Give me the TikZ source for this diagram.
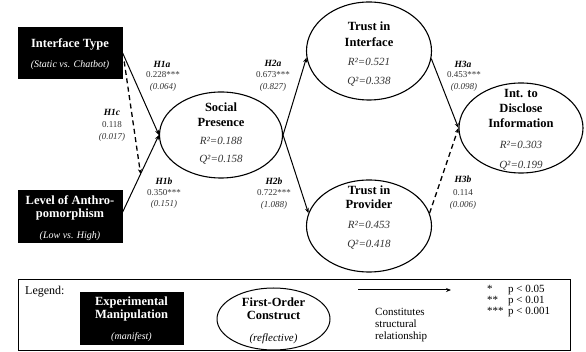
\documentclass[tikz,border=0pt]{standalone}
\usepackage{fontspec}
\setmainfont{Liberation Serif}
\usetikzlibrary{shapes.geometric,arrows.meta}
\begin{document}
\begin{tikzpicture}[x=1pt,y=-1pt,
  blackbox/.style={draw=black,fill=black,inner sep=0pt},
  construct/.style={draw=black,ellipse,line width=1.1pt,inner sep=0pt},
  ttl/.style={font=\fontsize{12.5}{14}\selectfont\bfseries,inner sep=0pt},
  wttl/.style={ttl,text=white},
  sub/.style={font=\fontsize{10}{12}\selectfont\itshape,inner sep=0pt},
  wsub/.style={sub,text=white},
  fit/.style={font=\fontsize{11}{13}\selectfont\itshape,text=black!80,inner sep=0pt},
  hyp/.style={font=\fontsize{9.5}{11}\selectfont\bfseries\itshape,inner sep=0pt},
  coef/.style={font=\fontsize{9}{11}\selectfont,text=black!80,inner sep=0pt},
  se/.style={font=\fontsize{9}{11}\selectfont\itshape,text=black!80,inner sep=0pt},
  leg/.style={font=\fontsize{11}{13}\selectfont,inner sep=0pt},
  bigleg/.style={font=\fontsize{12}{13}\selectfont,inner sep=0pt},
  sigleg/.style={font=\fontsize{11}{12}\selectfont,inner sep=0pt},
  path/.style={line width=1pt,-{Stealth[length=5pt,width=4pt]}},
  dpath/.style={path,line width=1.3pt,dash pattern=on 5pt off 3.5pt},
]
\useasboundingbox (0,0) rectangle (586,352);

% manipulations
\node[blackbox,minimum width=104,minimum height=51] (itype) at (70,52.5) {};
\node[wttl] (itypeA) at (70,44) {Interface Type};
\node[wsub] (itypeB) at (70,65) {(Static vs. Chatbot)};

\node[blackbox,minimum width=104,minimum height=52] (lvl) at (70,216) {};
\node[wttl] (lvlA) at (70,200) {Level of Anthro-};
\node[wttl] (lvlB) at (70,214) {pomorphism};
\node[wsub] (lvlC) at (70,236) {(Low vs. High)};

% constructs
\node[construct,minimum width=123,minimum height=86] (sp) at (221,135) {};
\node[ttl] (spA) at (221,107) {Social};
\node[ttl] (spB) at (221,122) {Presence};
\node[fit] (spC) at (221,141) {R²=0.188};
\node[fit] (spD) at (221,160) {Q²=0.158};

\node[construct,minimum width=125,minimum height=98] (ti) at (369,51) {};
\node[ttl] (tiA) at (369,26) {Trust in};
\node[ttl] (tiB) at (369,42) {Interface};
\node[fit] (tiC) at (369,62) {R²=0.521};
\node[fit] (tiD) at (369,82) {Q²=0.338};

\node[construct,minimum width=125,minimum height=92] (tp) at (369,226) {};
\node[ttl] (tpA) at (369,190) {Trust in};
\node[ttl] (tpB) at (369,204) {Provider};
\node[fit] (tpC) at (369,225) {R²=0.453};
\node[fit] (tpD) at (369,245) {Q²=0.418};

\node[construct,minimum width=124,minimum height=90] (idi) at (521,128) {};
\node[ttl] (idiA) at (521,93) {Int. to};
\node[ttl] (idiB) at (521,108) {Disclose};
\node[ttl] (idiC) at (521,123) {Information};
\node[fit] (idiD) at (521,145) {R²=0.303};
\node[fit] (idiE) at (521,166) {Q²=0.199};

% paths
\coordinate (h1aS) at ([yshift=0.5pt]itype.east);
\coordinate (h1bS) at ([yshift=3pt]lvl.east);
\draw[path] (h1aS) -- (sp.west);
\draw[path] (h1bS) -- (sp.west);
\path (h1bS) -- (sp.west) coordinate[pos=0.5] (h1bmid);
\draw[dpath] ([xshift=2pt,yshift=-9pt]itype.east) -- (h1bmid);
\draw[path] (sp.east) -- (ti.186);
\draw[path] (sp.east) -- (tp.168);
\draw[path] (ti.353) -- (idi.west);
\draw[dpath] (tp.12) -- (idi.west);

% labels
\node[hyp] (l1a) at (162,64) {H1a};
\node[coef] (c1a) at (163,75) {0.228***};
\node[se] (s1a) at (163,87) {(0.064)};
\node[hyp] (l1c) at (112,112) {H1c};
\node[coef] (c1c) at (112,125) {0.118};
\node[se] (s1c) at (112,137) {(0.017)};
\node[hyp] (l1b) at (164,181) {H1b};
\node[coef] (c1b) at (164,193) {0.350***};
\node[se] (s1b) at (164,204) {(0.151)};
\node[hyp] (l2a) at (273,63) {H2a};
\node[coef] (c2a) at (273,75) {0.673***};
\node[se] (s2a) at (273,87) {(0.827)};
\node[hyp] (l2b) at (274,181) {H2b};
\node[coef] (c2b) at (274,193) {0.722***};
\node[se] (s2b) at (274,205) {(1.088)};
\node[hyp] (l3a) at (463,64) {H3a};
\node[coef] (c3a) at (464,75) {0.453***};
\node[se] (s3a) at (464,87) {(0.098)};
\node[hyp] (l3b) at (463,179) {H3b};
\node[coef] (c3b) at (463,193) {0.114};
\node[se] (s3b) at (463,205) {(0.006)};

% legend
\node[draw=black,line width=1pt,minimum width=552,minimum height=71,inner sep=0pt] (legend) at (294,315.5) {};
\node[bigleg,anchor=west] (legT) at (25,292) {Legend:};
\node[blackbox,minimum width=103,minimum height=52] (lbox) at (131.5,318) {};
\node[wttl] (lboxA) at (131.5,302) {Experimental};
\node[wttl] (lboxB) at (131.5,315) {Manipulation};
\node[wsub] (lboxC) at (131.5,337) {(manifest)};
\node[construct,line width=1pt,minimum width=113,minimum height=62] (lell) at (273.5,319) {};
\node[ttl] (lellA) at (273.5,302) {First-Order};
\node[ttl] (lellB) at (273.5,315) {Construct};
\node[sub,font=\fontsize{11}{13}\selectfont\itshape] (lellC) at (273.5,339) {(reflective)};
\coordinate (larS) at (358,290);
\coordinate (larE) at (451,290);
\draw[path] (larS) -- (larE);
\node[leg,anchor=west] (lt1) at (375,312) {Constitutes};
\node[leg,anchor=west] (lt2) at (375,324) {structural};
\node[leg,anchor=west] (lt3) at (375,337) {relationship};
\node[sigleg,anchor=base west] (st1) at (487,293) {*};
\node[sigleg,anchor=base west] (st2) at (487,304) {**};
\node[sigleg,anchor=base west] (st3) at (487,315) {***};
\node[sigleg,anchor=base west] (pv1) at (508,293) {p < 0.05};
\node[sigleg,anchor=base west] (pv2) at (508,304) {p < 0.01};
\node[sigleg,anchor=base west] (pv3) at (508,315) {p < 0.001};
\end{tikzpicture}
\end{document}
